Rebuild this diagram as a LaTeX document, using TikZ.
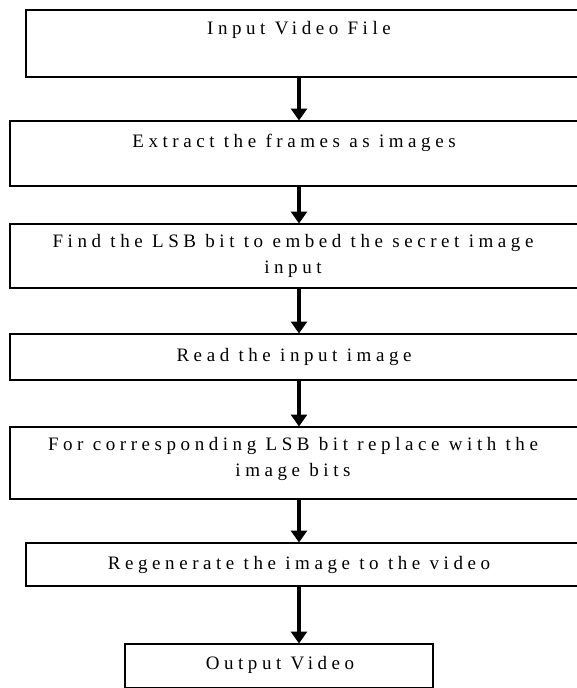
\documentclass[tikz,border=0pt]{standalone}
\usepackage{fontspec}
\setmainfont{Liberation Serif}
\newfontfamily\flowfont[LetterSpace=24]{Liberation Serif}
\usetikzlibrary{arrows.meta}

\tikzset{
  stagebox/.style={draw=black, line width=1.6pt, rectangle, inner sep=0pt, anchor=north west},
  stagetext/.style={font=\flowfont\fontsize{19}{26}\selectfont, align=center, inner sep=0pt, text=black},
  flowarrow/.style={draw=black, line width=3.6pt, -{Triangle[width=16pt,length=12pt]}, shorten >=-0.5pt},
}

\begin{document}
\begin{tikzpicture}[x=1pt, y=-1pt]
  \useasboundingbox (0,0) rectangle (577,688);
  \clip (0,0) rectangle (577,688);

  % boxes of the flow, top to bottom (boxes 1-6 run past the right edge)
  \node[stagebox, minimum width=600pt, minimum height=67pt] (b1) at (25,9) {};
  \node[stagebox, minimum width=600pt, minimum height=65pt] (b2) at (9,120) {};
  \node[stagebox, minimum width=600pt, minimum height=64pt] (b3) at (9,223) {};
  \node[stagebox, minimum width=600pt, minimum height=46pt] (b4) at (9,333) {};
  \node[stagebox, minimum width=600pt, minimum height=72pt] (b5) at (9,426) {};
  \node[stagebox, minimum width=600pt, minimum height=43pt] (b6) at (25,542) {};
  \node[stagebox, minimum width=308pt, minimum height=44pt] (b7) at (124,643) {};

  % labels
  \node[stagetext] (t1) at (299,30) {Input Video File};
  \node[stagetext] (t2) at (294,143) {Extract the frames as images};
  \node[stagetext] (t3) at (293,256) {Find the LSB bit to embed the secret image\\input};
  \node[stagetext] (t4) at (294,357) {Read the input image};
  \node[stagetext] (t5) at (293,459) {For corresponding LSB bit replace with the\\image bits};
  \node[stagetext] (t6) at (299,565) {Regenerate the image to the video};
  \node[stagetext] (t7) at (280,665) {Output Video};

  % vertical axis of the arrows
  \coordinate (ax) at (299,0);

  \draw[flowarrow] (b1.south -| ax) -- (b2.north -| ax);
  \draw[flowarrow] (b2.south -| ax) -- (b3.north -| ax);
  \draw[flowarrow] (b3.south -| ax) -- (b4.north -| ax);
  \draw[flowarrow] (b4.south -| ax) -- (b5.north -| ax);
  \draw[flowarrow] (b5.south -| ax) -- (b6.north -| ax);
  \draw[flowarrow] (b6.south -| ax) -- (b7.north -| ax);
\end{tikzpicture}
\end{document}
